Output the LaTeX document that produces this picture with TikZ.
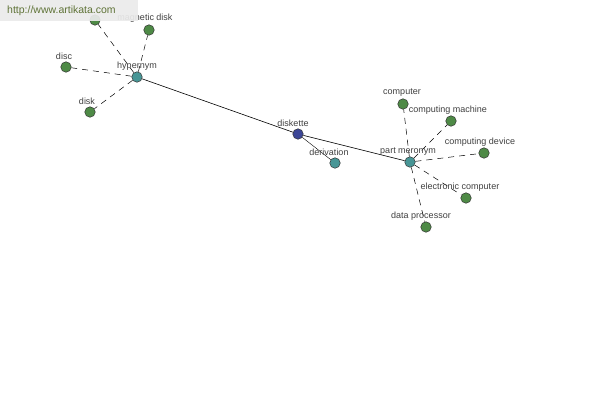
\documentclass[tikz,border=0pt]{standalone}
\usepackage{fontspec}
\setmainfont{Liberation Sans}
\pgfdeclarelayer{bg}
\pgfdeclarelayer{top}
\pgfsetlayers{bg,main,top}
\begin{document}
\begin{tikzpicture}[x=1pt,y=-1pt,
  dot/.style={circle,draw=black!80,line width=0.5pt,minimum size=10.5pt,inner sep=0pt},
  leaf/.style={dot,fill=leafgreen},
  hub/.style={dot,fill=hubteal},
  root/.style={dot,fill=rootblue},
  lbl/.style={font=\fontsize{9}{10}\selectfont,text=black!75,inner sep=0pt},
  dashlink/.style={draw=black,line width=0.5pt,dash pattern=on 6pt off 5pt},
  link/.style={draw=black,line width=0.6pt}]
\definecolor{leafgreen}{RGB}{78,138,70}
\definecolor{hubteal}{RGB}{72,150,150}
\definecolor{rootblue}{RGB}{60,70,150}
\definecolor{bannertext}{RGB}{95,115,55}
\useasboundingbox (0,0) rectangle (600,400);
\begin{pgfonlayer}{bg}
\fill[white] (0,0) rectangle (600,400);
\end{pgfonlayer}
% nodes
\node[hub]  (hyp) at (137,77) {};
\node[leaf] (top) at (95,20) {};
\node[leaf] (mag) at (149,30) {};
\node[leaf] (disc) at (66,67) {};
\node[leaf] (disk) at (90,112) {};
\node[root] (dsk) at (298,134) {};
\node[hub]  (der) at (335,163) {};
\node[hub]  (pm) at (410,162) {};
\node[leaf] (comp) at (403,104) {};
\node[leaf] (cm) at (451,121) {};
\node[leaf] (cd) at (484,153) {};
\node[leaf] (ec) at (466,198) {};
\node[leaf] (dp) at (426,227) {};
% links
\begin{pgfonlayer}{bg}
\path[link] (hyp) -- (dsk);
\path[link] (dsk) -- (pm);
\path[link,line width=0.4pt] (dsk) -- (der);
\foreach \n in {top,mag,disc,disk} \path[dashlink] (hyp) -- (\n);
\foreach \n in {comp,cm,cd,ec,dp} \path[dashlink] (pm) -- (\n);
\end{pgfonlayer}
% labels
\node[lbl] (lhyp) at (137,66) {hypernym};
\node[lbl] (lmag) at (145,18) {magnetic disk};
\node[lbl] (ldisc) at (64,56) {disc};
\node[lbl] (ldisk) at (87,101) {disk};
\node[lbl] (ldsk) at (293,123) {diskette};
\node[lbl] (lder) at (329,152) {derivation};
\node[lbl] (lpm) at (408,152) {part meronym};
\node[lbl] (lcomp) at (402,93) {computer};
\node[lbl] (lcm) at (448,110) {computing machine};
\node[lbl] (lec) at (460,187) {electronic computer};
\node[lbl] (lcd) at (480,142) {computing device};
\node[lbl] (ldp) at (421,216) {data processor};
% banner
\begin{pgfonlayer}{top}
\fill[black!8,opacity=0.92] (0,0) rectangle (138,21);
\node[font=\fontsize{10.5}{11}\selectfont,text=bannertext,anchor=west,inner sep=0pt] (banner) at (7,11) {http://www.artikata.com};
\end{pgfonlayer}
\end{tikzpicture}
\end{document}
